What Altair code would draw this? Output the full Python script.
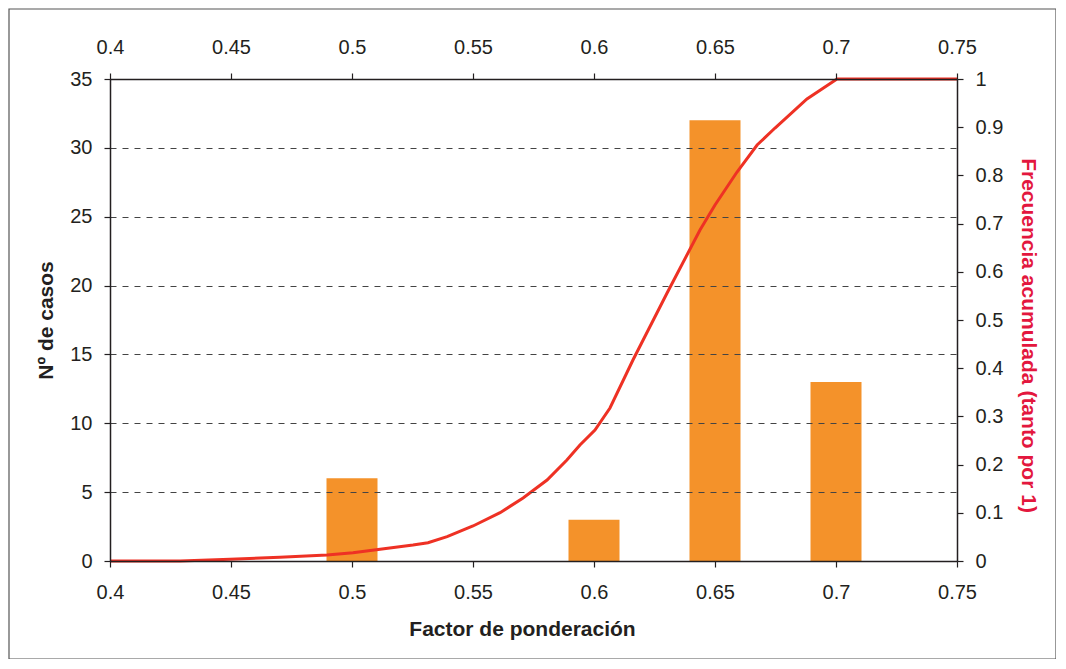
import altair as alt
import pandas as pd

# Histogram data
bar_factor = [0.5, 0.6, 0.65, 0.7]
bar_count = [6, 3, 32, 13]

# Cumulative frequency curve
cum_factor = [0.4, 0.429, 0.4496, 0.4702, 0.4897, 0.5004, 0.5116, 0.5252, 0.5314,
              0.5393, 0.55, 0.5612, 0.5707, 0.5806, 0.5888, 0.5942, 0.6004, 0.6066,
              0.6161, 0.6302, 0.6438, 0.65, 0.6591, 0.6674, 0.6748, 0.688, 0.7004,
              0.7029, 0.75]
cum_freq = [0.0, 0.0, 0.0035, 0.0077, 0.0124, 0.0172, 0.0243, 0.0332, 0.038,
            0.0504, 0.0726, 0.1002, 0.1307, 0.168, 0.2095, 0.2407, 0.2718, 0.3174,
            0.417, 0.556, 0.6867, 0.7386, 0.807, 0.863, 0.8983, 0.9585, 1.0,
            1.0, 1.0]

x_ticks = [0.4, 0.45, 0.5, 0.55, 0.6, 0.65, 0.7, 0.75]
y_ticks = [0, 5, 10, 15, 20, 25, 30, 35]
y2_ticks = [0, 0.1, 0.2, 0.3, 0.4, 0.5, 0.6, 0.7, 0.8, 0.9, 1.0]

bars_df = pd.DataFrame({"factor": bar_factor, "count": bar_count})
cum_df = pd.DataFrame({"factor": cum_factor, "freq": cum_freq})

FONT = "Liberation Sans"
DARK = "#231f20"
W, H = 847, 482

xscale = alt.Scale(domain=[0.4, 0.75], nice=False, zero=False, padding=0)

bars = alt.Chart(bars_df).mark_bar(size=51, color="#F4922A").encode(
    x=alt.X("factor:Q", scale=xscale,
            axis=alt.Axis(orient="bottom", values=x_ticks, format="~g",
                          title="Factor de ponderación", titlePadding=16,
                          labelPadding=15, zindex=1, grid=False,
                          labelFlush=False, titleX=412)),
    y=alt.Y("count:Q", scale=alt.Scale(domain=[0, 35], nice=False, padding=0),
            axis=alt.Axis(orient="left", values=y_ticks, title="Nº de casos",
                          grid=True, gridDash=[6, 6], gridColor="#444",
                          gridWidth=1, titlePadding=13, labelPadding=12, zindex=1)),
)

line = alt.Chart(cum_df).mark_line(color="#EE3124", strokeWidth=3).encode(
    x=alt.X("factor:Q", scale=xscale,
            axis=alt.Axis(orient="top", values=x_ticks, format="~g", title=None,
                          labelPadding=16, zindex=1, grid=False, labelFlush=False)),
    y=alt.Y("freq:Q", scale=alt.Scale(domain=[0, 1], nice=False),
            axis=alt.Axis(orient="right", values=y2_ticks, format="~g",
                          title="Frecuencia acumulada (tanto por 1)",
                          titleColor="#E3173E", grid=False, titlePadding=15,
                          labelPadding=12, zindex=1, titleY=256)),
)

frame = alt.Chart(pd.DataFrame({"a": [0]})).mark_rect(
    fill=None, stroke="#555", strokeWidth=1.2
).encode(
    x=alt.value(-101), x2=alt.value(946), y=alt.value(-70), y2=alt.value(580)
)

chart = alt.layer(bars, line, frame).resolve_scale(
    y="independent"
).resolve_axis(
    x="independent", y="independent"
).properties(
    width=W, height=H,
    background="white",
    autosize=alt.AutoSizeParams(type="none"),
    padding={"left": 102, "top": 71, "right": 99, "bottom": 98},
).configure_view(
    stroke=None
).configure_axis(
    labelFont=FONT, labelFontSize=20, labelColor=DARK,
    titleFont=FONT, titleFontSize=21, titleFontWeight="bold", titleColor=DARK,
    domainColor=DARK, domainWidth=1.5, tickColor=DARK, tickSize=6, tickWidth=1.2,
    grid=False,
)

chart.save("out.html", embed_options={"renderer": "svg", "actions": False})
